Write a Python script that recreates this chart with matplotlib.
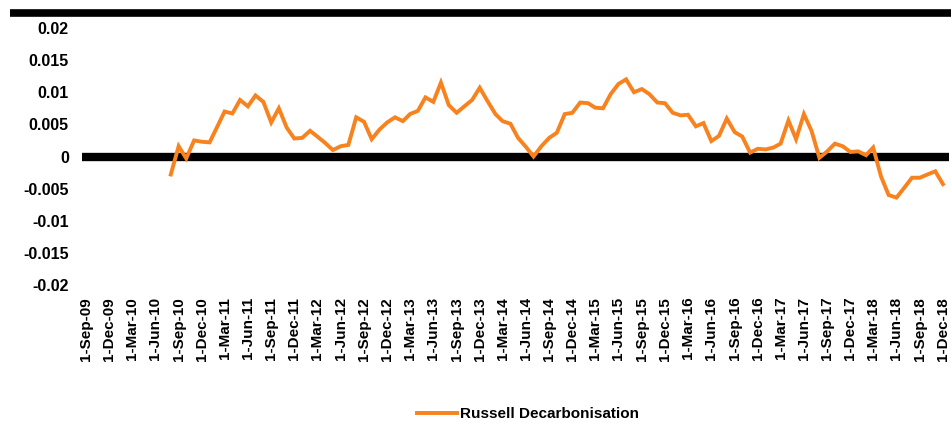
import pandas as pd
import matplotlib.pyplot as plt
import matplotlib.lines as mlines

plt.rcParams['font.family'] = ['Liberation Sans', 'DejaVu Sans']
plt.rcParams['font.weight'] = 'bold'

# monthly values, Aug-2010 .. Dec-2018
dates = pd.date_range('2010-08-01', '2018-12-01', freq='MS')
values = [
    -0.0028, 0.0016, -0.0003, 0.0025, 0.0023,                       # 2010
    0.0022, 0.0047, 0.0070, 0.0067, 0.0088, 0.0078,
    0.0095, 0.0085, 0.0053, 0.0075, 0.0045, 0.0028,                 # 2011
    0.0029, 0.0040, 0.0031, 0.0021, 0.0010, 0.0016,
    0.0018, 0.0061, 0.0054, 0.0027, 0.0042, 0.0053,                 # 2012
    0.0061, 0.0055, 0.0066, 0.0071, 0.0092, 0.0085,
    0.0115, 0.0080, 0.0068, 0.0078, 0.0088, 0.0107,                 # 2013
    0.0086, 0.0066, 0.0055, 0.0051, 0.0029, 0.0015,
    0.0000, 0.0016, 0.0029, 0.0037, 0.0066, 0.0068,                 # 2014
    0.0084, 0.0083, 0.0076, 0.0075, 0.0097, 0.0113,
    0.0120, 0.0100, 0.0105, 0.0097, 0.0084, 0.0083,                 # 2015
    0.0068, 0.0064, 0.0065, 0.0047, 0.0052, 0.0024,
    0.0032, 0.0059, 0.0038, 0.0031, 0.0006, 0.0012,                 # 2016
    0.0011, 0.0014, 0.0020, 0.0056, 0.0027, 0.0066,
    0.0040, -0.0002, 0.0008, 0.0020, 0.0016, 0.0007,                # 2017
    0.0008, 0.0002, 0.0014, -0.0031, -0.0060, -0.0064,
    -0.0049, -0.0033, -0.0033, -0.0028, -0.0023, -0.0043,           # 2018
]
series_name = 'Russell Decarbonisation'

tick_dates = pd.date_range('2009-09-01', '2018-12-01', freq='3MS')
tick_labels = [f'1-{d:%b-%y}' for d in tick_dates]
y_ticks = [0.02, 0.015, 0.01, 0.005, 0, -0.005, -0.01, -0.015, -0.02]
y_labels = ['0.02', '0.015', '0.01', '0.005', '0', '-0.005', '-0.01', '-0.015', '-0.02']

fig = plt.figure(figsize=(9.51, 4.23), dpi=100)
ax = fig.add_axes([82 / 951, (423 - 285) / 423, (949 - 82) / 951, (285 - 28) / 423])

ax.axhline(0, color='black', lw=6, zorder=1)
ax.plot(dates, values, color='#F7821E', lw=2.8, label=series_name, zorder=2,
        solid_joinstyle='miter')

ax.set_ylim(-0.02, 0.02)
ax.set_xlim(pd.Timestamp('2009-08-16'), pd.Timestamp('2018-12-25'))
ax.set_yticks(y_ticks)
ax.set_yticklabels(y_labels, fontsize=11.5, fontweight='bold')
ax.set_xticks(tick_dates)
ax.set_xticklabels(tick_labels, rotation=90, fontsize=11, fontweight='bold')
ax.tick_params(axis='both', length=0)
ax.tick_params(axis='x', pad=8.5)
ax.tick_params(axis='y', pad=9.4)
for s in ax.spines.values():
    s.set_visible(False)

# thick rule across the top of the chart
fig.add_artist(mlines.Line2D([10 / 951, 1.0], [1 - 13.5 / 423] * 2, color='black',
                             lw=5.5, solid_capstyle='butt'))

ax.legend(loc='center', bbox_to_anchor=(528 / 951, 1 - 414 / 423),
          bbox_transform=fig.transFigure, frameon=False, handlelength=2.6,
          handletextpad=0.2, prop={'weight': 'bold', 'size': 11})

fig.savefig('out.png', dpi=100)
